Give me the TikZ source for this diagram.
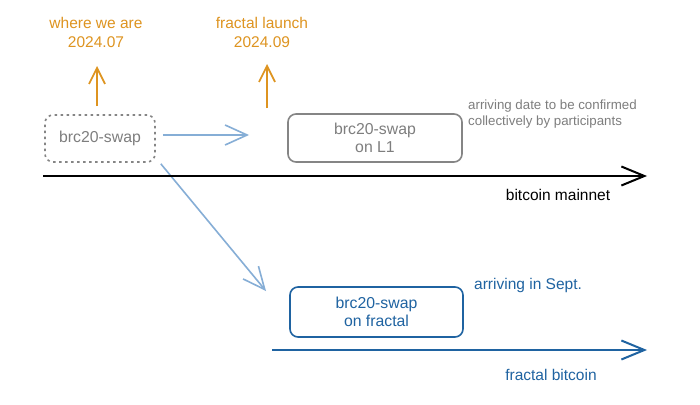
\documentclass[tikz,border=0pt]{standalone}
\usepackage{fontspec}
\setmainfont{Liberation Sans}
\usetikzlibrary{arrows.meta}
\definecolor{orng}{HTML}{DE9420}
\definecolor{txtgray}{HTML}{7E7E7E}
\definecolor{boxgray}{HTML}{858585}
\definecolor{lblue}{HTML}{86AED6}
\definecolor{dblue}{HTML}{1F63A1}
\tikzset{
  lbl/.style={inner sep=0pt, align=center, font=\fontsize{15.5}{19}\selectfont},
  note/.style={inner sep=0pt, align=left, font=\fontsize{13.3}{16}\selectfont, text=txtgray},
  boxstyle/.style={rounded corners=8pt, line width=1.6pt, align=center, inner sep=0pt, font=\fontsize{15.8}{18.5}\selectfont},
  orngarrow/.style={draw=orng, line width=1.7pt, -{Straight Barb[length=16pt,width=16pt,line width=1.7pt]}},
  bluearrow/.style={draw=lblue, line width=1.6pt, -{Straight Barb[length=22pt,width=20pt,line width=1.6pt]}},
  mainarrow/.style={line width=2pt, -{Straight Barb[length=23pt,width=19pt,line width=2pt]}},
}
\begin{document}
\begin{tikzpicture}[x=1pt,y=-1pt]
\useasboundingbox[fill=white] (0,0) rectangle (700,404);
% top labels
\node[lbl, text=orng] (now) at (96,32) {where we are\\2024.07};
\node[lbl, text=orng] (launch) at (262,32) {fractal launch\\2024.09};
\coordinate (nowfoot) at (97,106);
\coordinate (nowtip) at (97,66);
\coordinate (lfoot) at (267,108);
\coordinate (ltip) at (267,64);
\draw[orngarrow] (nowfoot) -- (nowtip);
\draw[orngarrow] (lfoot) -- (ltip);
% boxes
\node[boxstyle, draw=boxgray, dash pattern=on 2.5pt off 3.5pt, text=txtgray, minimum width=110pt, minimum height=47pt] (swap) at (100,138.5) {brc20-swap};
\node[boxstyle, draw=boxgray, text=txtgray, minimum width=174pt, minimum height=48pt] (l1) at (375,138) {brc20-swap\\on L1};
\node[note, anchor=north west] (l1note) at (468,100) {arriving date to be confirmed\\collectively by participants};
\node[boxstyle, draw=dblue, text=dblue, minimum width=173pt, minimum height=50pt] (fr) at (376.5,312) {brc20-swap\\on fractal};
\node[lbl, text=dblue, anchor=west] (frnote) at (474,285) {arriving in Sept.};
% short blue arrow
\coordinate (swapend) at (249,135);
\draw[bluearrow] (swap.east |- swapend) ++(7,0) -- (swapend);
% diagonal arrow
\coordinate (diagend) at (266,291);
\draw[bluearrow] ([xshift=5pt,yshift=-1pt]swap.south east) -- (diagend);
% mainnet
\coordinate (mstart) at (43,176);
\coordinate (mend) at (647,176);
\draw[mainarrow] (mstart) -- (mend);
\node[lbl] (mlabel) at (558,195) {bitcoin mainnet};
% fractal chain
\coordinate (fstart) at (272,350);
\coordinate (fend) at (647,350);
\draw[mainarrow, draw=dblue] (fstart) -- (fend);
\node[lbl, text=dblue] (flabel) at (551,375) {fractal bitcoin};
\end{tikzpicture}
\end{document}
